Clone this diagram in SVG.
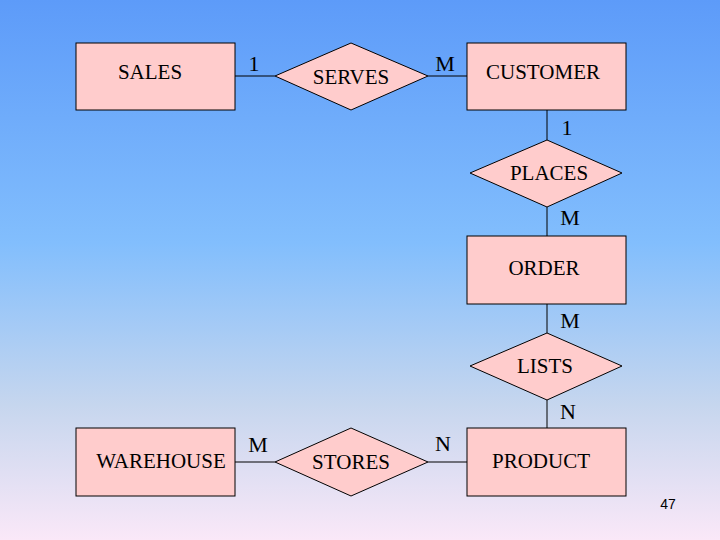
<svg xmlns="http://www.w3.org/2000/svg" width="720" height="540" viewBox="0 0 720 540">
<defs>
<linearGradient id="bg" x1="0" y1="0" x2="0" y2="1">
<stop offset="0" stop-color="#5d9bf9"/>
<stop offset="0.45" stop-color="#82befd"/>
<stop offset="0.75" stop-color="#c6d6ee"/>
<stop offset="1" stop-color="#fae8f8"/>
</linearGradient>
</defs>
<style>
.ent{fill:#ffcccc;stroke:#000;stroke-width:1}
.rel{fill:#ffcccc;stroke:#000;stroke-width:1}
.lbl{font-family:'Liberation Serif','Times New Roman',serif;font-size:21px;fill:#000;text-anchor:middle;dominant-baseline:central}
.card{font-family:'Liberation Serif','Times New Roman',serif;font-size:22px;fill:#000;text-anchor:middle;dominant-baseline:central}
.conn line{stroke:#000;stroke-width:1}
</style>
<rect x="0" y="0" width="720" height="540" fill="url(#bg)"/>
<g class="conn" id="connectors">
<line x1="235" y1="76" x2="275" y2="76"/>
<line x1="428" y1="76" x2="467" y2="76"/>
<line x1="547" y1="110" x2="547" y2="140"/>
<line x1="547" y1="207" x2="547" y2="236"/>
<line x1="547" y1="304" x2="547" y2="333"/>
<line x1="547" y1="400" x2="547" y2="428"/>
<line x1="235" y1="462" x2="275" y2="462"/>
<line x1="428" y1="462" x2="467" y2="462"/>
<text class="card" x="254" y="63">1</text>
<text class="card" x="445" y="63">M</text>
<text class="card" x="567" y="127">1</text>
<text class="card" x="570" y="217">M</text>
<text class="card" x="570" y="320">M</text>
<text class="card" x="568" y="411">N</text>
<text class="card" x="258" y="444">M</text>
<text class="card" x="443" y="443">N</text>
</g>
<g id="sales"><rect class="ent" x="76" y="43" width="159" height="67"/><text class="lbl" x="150" y="72">SALES</text></g>
<g id="serves"><polygon class="rel" points="275,76 351,43 428,76 351,110"/><text class="lbl" x="351" y="77">SERVES</text></g>
<g id="customer"><rect class="ent" x="467" y="43" width="159" height="67"/><text class="lbl" x="543" y="72">CUSTOMER</text></g>
<g id="places"><polygon class="rel" points="470,173 547,140 622,173 547,207"/><text class="lbl" x="549" y="173">PLACES</text></g>
<g id="order"><rect class="ent" x="467" y="236" width="159" height="68"/><text class="lbl" x="544" y="268">ORDER</text></g>
<g id="lists"><polygon class="rel" points="470,366 547,333 622,366 547,400"/><text class="lbl" x="545" y="366">LISTS</text></g>
<g id="warehouse"><rect class="ent" x="76" y="428" width="159" height="68"/><text class="lbl" x="161" y="461">WAREHOUSE</text></g>
<g id="stores"><polygon class="rel" points="275,462 351,428 428,462 351,496"/><text class="lbl" x="351" y="462">STORES</text></g>
<g id="product"><rect class="ent" x="467" y="428" width="159" height="68"/><text class="lbl" x="541" y="461">PRODUCT</text></g>
<text x="668" y="504" font-family="'Liberation Sans',Arial,sans-serif" font-size="14" text-anchor="middle" dominant-baseline="central" fill="#000">47</text>
</svg>
